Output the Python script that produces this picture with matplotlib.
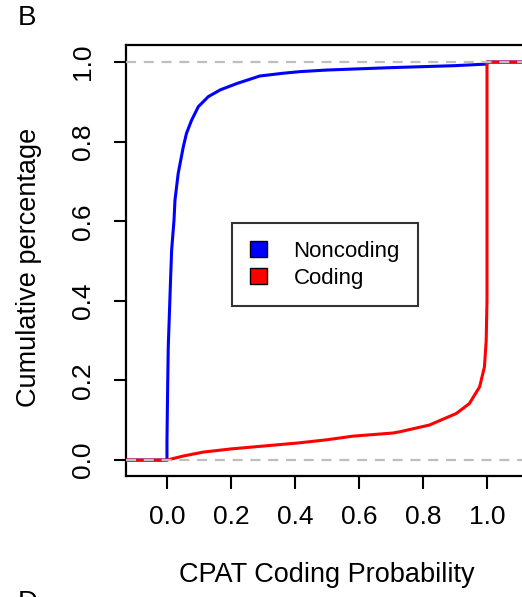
import numpy as np
import matplotlib
matplotlib.use("Agg")
import matplotlib.pyplot as plt
from matplotlib.patches import Patch

# ECDF curves (x = CPAT coding probability, y = cumulative fraction)
noncoding_x = [-0.2, 0.0, 0.0, 0.002, 0.004, 0.0115, 0.0146, 0.022, 0.025, 0.035,
               0.051, 0.061, 0.077, 0.098, 0.129, 0.166, 0.218, 0.29, 0.364,
               0.416, 0.5, 0.7, 0.9, 1.0, 1.0, 1.2]
noncoding_y = [0.0, 0.0, 0.05, 0.176, 0.284, 0.46, 0.528, 0.603, 0.653, 0.72,
               0.787, 0.821, 0.854, 0.888, 0.913, 0.93, 0.946, 0.965, 0.972,
               0.976, 0.98, 0.986, 0.991, 0.995, 1.0, 1.0]

coding_x = [-0.2, 0.0, 0.05, 0.113, 0.2, 0.27, 0.41, 0.5, 0.58, 0.706, 0.727,
            0.82, 0.904, 0.945, 0.977, 0.992, 0.9975, 1.0, 1.0, 1.2]
coding_y = [0.0, 0.0, 0.01, 0.02, 0.028, 0.033, 0.043, 0.051, 0.06, 0.068, 0.071,
            0.088, 0.117, 0.142, 0.184, 0.234, 0.30, 0.40, 1.0, 1.0]

xticks = [0.0, 0.2, 0.4, 0.6, 0.8, 1.0]
yticks = [0.0, 0.2, 0.4, 0.6, 0.8, 1.0]

plt.rcParams['font.family'] = ['Liberation Sans', 'DejaVu Sans']

fig = plt.figure(figsize=(5.22, 5.97), dpi=100)
ax = fig.add_axes([0.2414, 0.2027, 0.770, 0.722])

ax.plot(noncoding_x, noncoding_y, color='#0000FF', lw=2.2, zorder=3)
ax.plot(coding_x, coding_y, color='#FF0000', lw=2.2, zorder=4)
for h in [0.0, 1.0]:
    ax.axhline(h, color='#BEBEBE', lw=1.6, ls=(0, (4.5, 3.5)), zorder=5)

ax.set_xlim(-0.128, 1.128)
ax.set_ylim(-0.04, 1.043)
ax.set_xticks(xticks)
ax.set_yticks(yticks)
ax.set_xticklabels(['%.1f' % t for t in xticks])
ax.set_yticklabels(['%.1f' % t for t in yticks], rotation=90, va='center')
ax.tick_params(length=9, width=1.5, labelsize=19)
ax.tick_params(axis='x', pad=12)
ax.tick_params(axis='y', pad=13)
for s in ax.spines.values():
    s.set_linewidth(1.6)

ax.set_xlabel('CPAT Coding Probability', fontsize=19.5)
ax.set_ylabel('Cumulative percentage', fontsize=19.5)
ax.xaxis.set_label_coords(0.5, -0.2)
ax.yaxis.set_label_coords(-0.21, 0.484)

handles = [Patch(facecolor='#0000FF', edgecolor='black', label='Noncoding'),
           Patch(facecolor='#FF0000', edgecolor='black', label='Coding')]
leg = ax.legend(handles=handles, loc='center', bbox_to_anchor=(0.495, 0.49),
                fontsize=16, frameon=True, fancybox=False, edgecolor='black',
                handlelength=0.75, handleheight=0.75, handletextpad=1.2,
                borderpad=0.8, labelspacing=0.25)
leg.get_frame().set_linewidth(1.5)

fig.text(0.052, 0.97, 'B', fontsize=20, va='center', ha='center')
fig.text(0.054, 0.012, 'D', fontsize=20, va='top', ha='center')

fig.savefig('out.png', dpi=100)
